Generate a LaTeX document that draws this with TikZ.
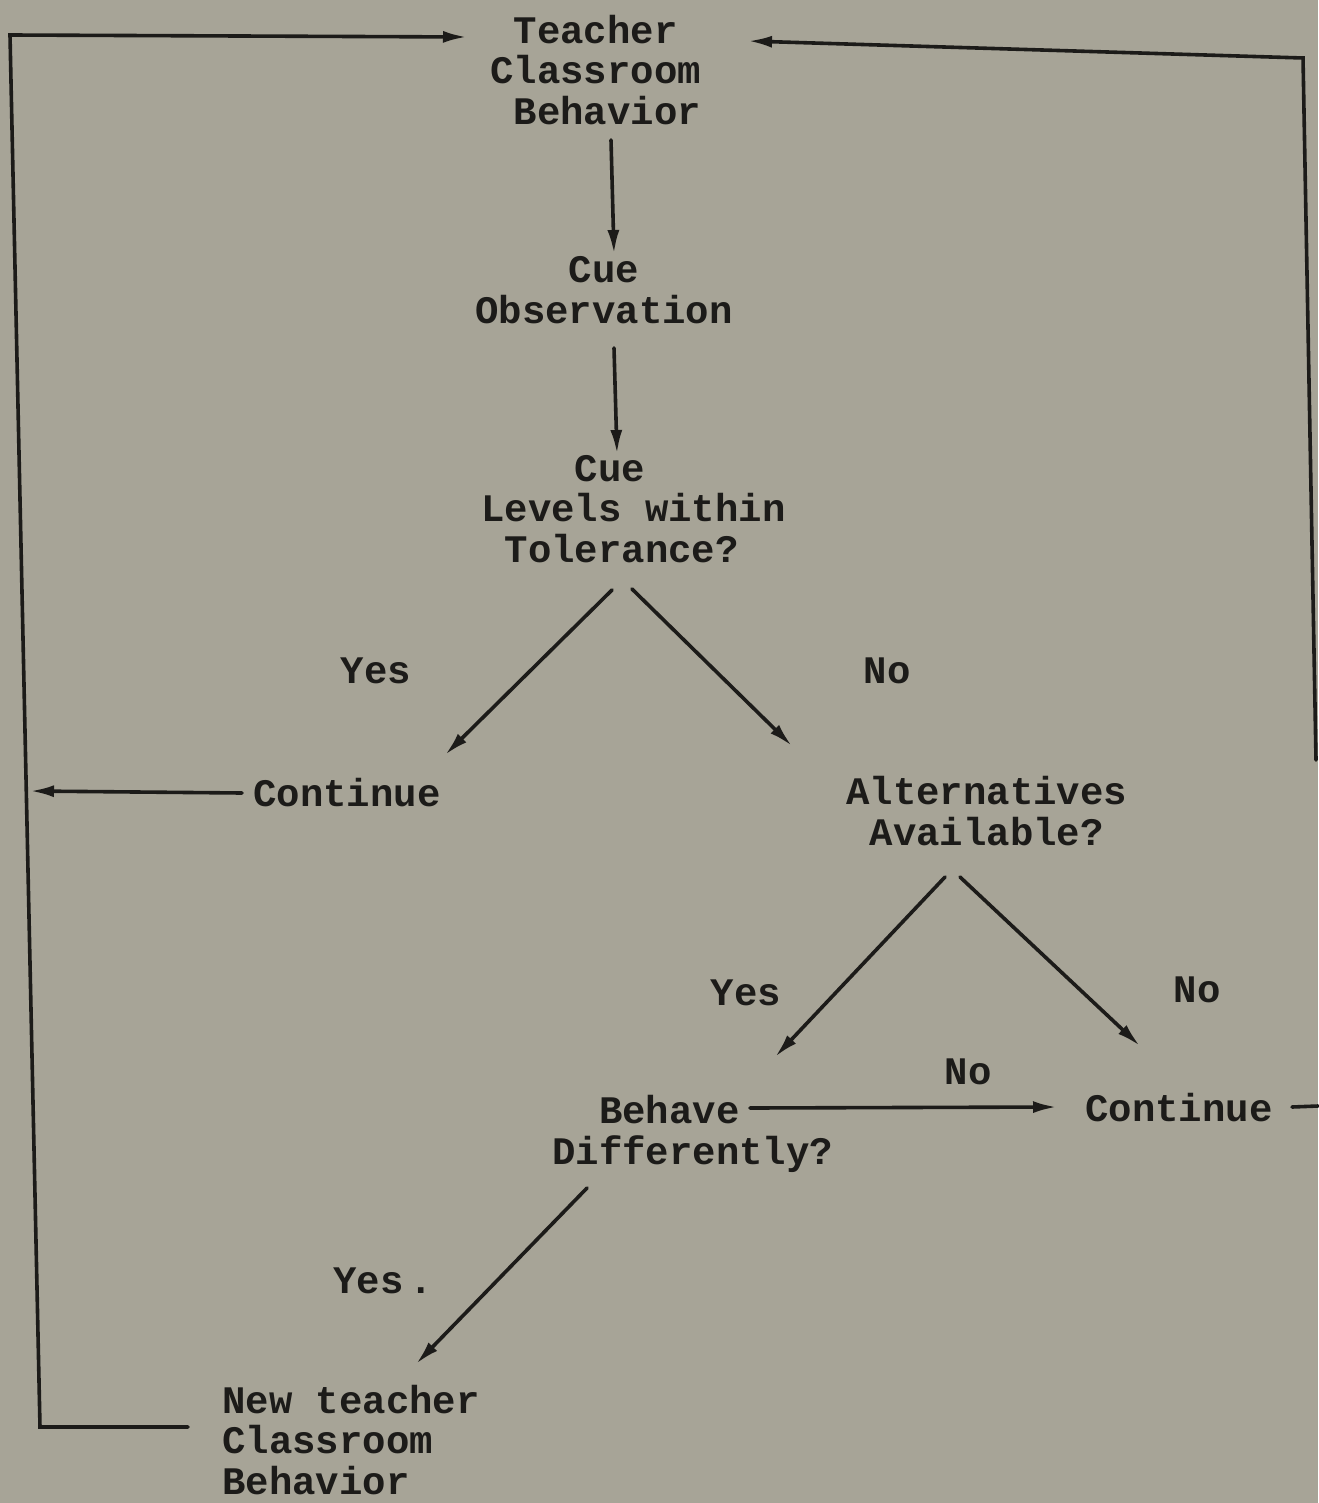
\documentclass[tikz,border=0pt]{standalone}
\usepackage{fontspec}
\setmonofont{Liberation Mono}
\usetikzlibrary{arrows.meta}
\definecolor{paper}{HTML}{A7A497}
\definecolor{ink}{HTML}{1C1B19}
\begin{document}
\begin{tikzpicture}[x=1pt,y=-1pt,
  txt/.style={font=\ttfamily\bfseries\fontsize{39}{40.5}\selectfont, text=ink, inner sep=0pt, align=left},
  conn/.style={draw=ink, line width=3.6pt, line cap=round},
  arr/.style={conn, -{Latex[length=24pt,width=12pt]}}]
\fill[paper] (0,0) rectangle (1318,1503);
\useasboundingbox (0,0) rectangle (1318,1503);

% text nodes
\node[txt, anchor=west] (tcb) at (490,70) {\hphantom{x}Teacher\\Classroom\\\hphantom{x}Behavior};
\node[txt, anchor=west] (obs) at (475,290) {\hphantom{xxxx}Cue\\Observation};
\node[txt, anchor=west] (tol) at (481,509) {\hphantom{xxxx}Cue\\Levels within\\\hphantom{x}Tolerance?};
\node[txt] (yes1) at (376,671) {Yes};
\node[txt] (no1) at (887,671) {No};
\node[txt, anchor=west] (cont1) at (253,793) {Continue};
\node[txt, anchor=west] (alt) at (846,811) {Alternatives\\\hphantom{x}Available?};
\node[txt] (yes2) at (746,993) {Yes};
\node[txt] (no2) at (1197,990) {No};
\node[txt] (no3) at (968,1072) {No};
\node[txt, anchor=west] (beh) at (552,1134) {\hphantom{xx}Behave\\Differently?};
\node[txt, anchor=west] (cont2) at (1085,1108) {Continue};
\node[txt, anchor=west] (yes3) at (333,1281) {Yes\,.};
\node[txt, anchor=west] (ntcb) at (222,1440) {New teacher\\Classroom\\Behavior};

% connector end points
\coordinate (tcbL) at (467,37);
\coordinate (tcbR) at (748,41);
\coordinate (tcbS) at (611,140);
\coordinate (obsN) at (614,254);
\coordinate (obsS) at (614,348);
\coordinate (tolN) at (617,454);
\coordinate (tolSL) at (612,590);
\coordinate (tolSR) at (632,589);
\coordinate (cont1N) at (445,755);
\coordinate (altN) at (792,746);
\coordinate (altSL) at (945,877);
\coordinate (altSR) at (960,877);
\coordinate (behN) at (775,1057);
\coordinate (cont2N) at (1140,1046);
\coordinate (behE) at (750,1108);
\coordinate (cont2W) at (1057,1107);
\coordinate (behS) at (587,1188);
\coordinate (ntcbN) at (416,1364);
\coordinate (cont1W) at (242,793);
\coordinate (leftEdge) at (30,791);
\coordinate (ntcbW) at (188,1427);
\coordinate (bl) at (40,1427);
\coordinate (tl) at (10,35);
\coordinate (rb) at (1316,760);
\coordinate (tr) at (1303,58);
\coordinate (cont2E) at (1292,1107);
\coordinate (rEdge) at (1318,1106);

% connectors
\draw[arr] (tcbS) -- (obsN);
\draw[arr] (obsS) -- (tolN);
\draw[arr] (tolSL) -- (cont1N);
\draw[arr] (tolSR) -- (altN);
\draw[arr] (altSL) -- (behN);
\draw[arr] (altSR) -- (cont2N);
\draw[arr] (behE) -- (cont2W);
\draw[arr] (behS) -- (ntcbN);
\draw[arr] (cont1W) -- (leftEdge);
\draw[arr] (ntcbW) -- (bl) -- (tl) -- (tcbL);
\draw[arr] (rb) -- (tr) -- (tcbR);
\draw[conn] (cont2E) -- (rEdge);
\end{tikzpicture}
\end{document}
